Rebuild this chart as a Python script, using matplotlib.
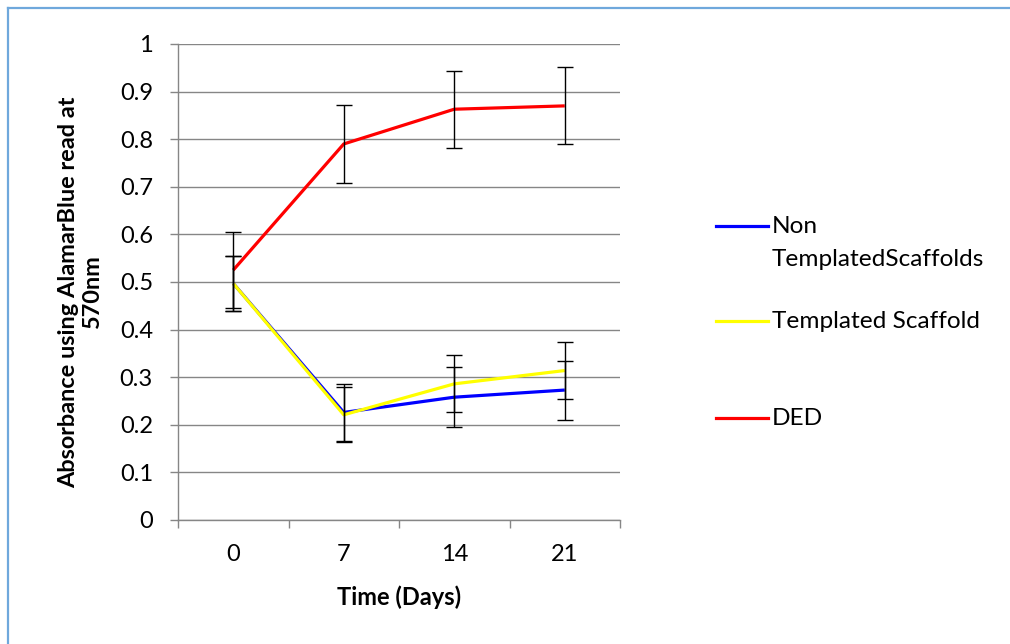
import matplotlib
matplotlib.use("Agg")
import matplotlib.pyplot as plt
from matplotlib.lines import Line2D

plt.rcParams['font.family'] = ['Lato', 'DejaVu Sans']

days = ["0", "7", "14", "21"]
non_templated = [0.497, 0.226, 0.258, 0.273]
non_templated_err = [0.058, 0.060, 0.063, 0.062]
templated = [0.497, 0.221, 0.286, 0.314]
templated_err = [0.058, 0.058, 0.060, 0.060]
ded = [0.525, 0.790, 0.863, 0.870]
ded_err = [0.080, 0.081, 0.081, 0.081]

series = [
    ("Non\nTemplatedScaffolds", non_templated, non_templated_err, "#0000FF"),
    ("Templated Scaffold", templated, templated_err, "#FFFF00"),
    ("DED", ded, ded_err, "#FF0000"),
]

W, H = 1010, 644
fig = plt.figure(figsize=(W / 100, H / 100), dpi=100)
ax = fig.add_axes([178 / W, 1 - 520 / H, 442 / W, 476 / H])

x = list(range(len(days)))
grid_col = "#868686"
for i, (label, vals, errs, col) in enumerate(series):
    ax.plot(x, vals, color=col, lw=2.3, solid_capstyle="butt", zorder=3 + i)
    ax.errorbar(x, vals, yerr=errs, fmt="none", ecolor="black",
                elinewidth=1.0, capsize=5.8, capthick=1.0, zorder=10)

ax.set_xlim(-0.5, len(days) - 0.5)
ax.set_ylim(0, 1)
ax.set_yticks([i / 10 for i in range(11)])
ax.set_yticklabels(["0", "0.1", "0.2", "0.3", "0.4", "0.5", "0.6", "0.7", "0.8", "0.9", "1"])
ax.yaxis.grid(True, color=grid_col, lw=1.0)
ax.set_axisbelow(True)

ax.set_xticks(x)
ax.set_xticklabels(days)
ax.set_xticks([i - 0.5 for i in range(len(days) + 1)], minor=True)
ax.tick_params(axis="x", which="major", length=0, pad=17, labelsize=17)
ax.tick_params(axis="x", which="minor", length=6, color=grid_col, width=1.0, direction="out")
ax.tick_params(axis="y", length=6, color=grid_col, width=1.0, direction="out", pad=12, labelsize=17)

for side in ("top", "right"):
    ax.spines[side].set_visible(False)
for side in ("left", "bottom"):
    ax.spines[side].set_color(grid_col)
    ax.spines[side].set_linewidth(1.0)

ax.set_xlabel("Time (Days)", fontsize=17, fontweight="bold")
ax.xaxis.set_label_coords(0.5, -(585 - 520) / 476)
ax.set_ylabel("Absorbance using AlamarBlue read at\n570nm", fontsize=16.9,
              fontweight="bold", linespacing=1.15)
ax.yaxis.set_label_coords(-(178 - 103) / 442, 0.478)

# legend: colour sample followed by the series name
legend_rows = [226, 321, 418]
for (label, _, _, col), yp in zip(series, legend_rows):
    yf = 1 - yp / H
    fig.add_artist(Line2D([716 / W, 768 / W], [yf, yf], color=col, lw=2.3,
                          transform=fig.transFigure))
    fig.text(772 / W, 1 - (yp - 10) / H, label, fontsize=17.6, ha="left", va="top",
             linespacing=1.7)

# frame edges along the top and left of the figure
fig.add_artist(Line2D([8 / W, 1], [1 - 8 / H, 1 - 8 / H], color="#6FA8DC", lw=1.6,
                      transform=fig.transFigure))
fig.add_artist(Line2D([8 / W, 8 / W], [0, 1 - 8 / H], color="#6FA8DC", lw=1.6,
                      transform=fig.transFigure))

fig.savefig("out.png", dpi=100, facecolor="white")
